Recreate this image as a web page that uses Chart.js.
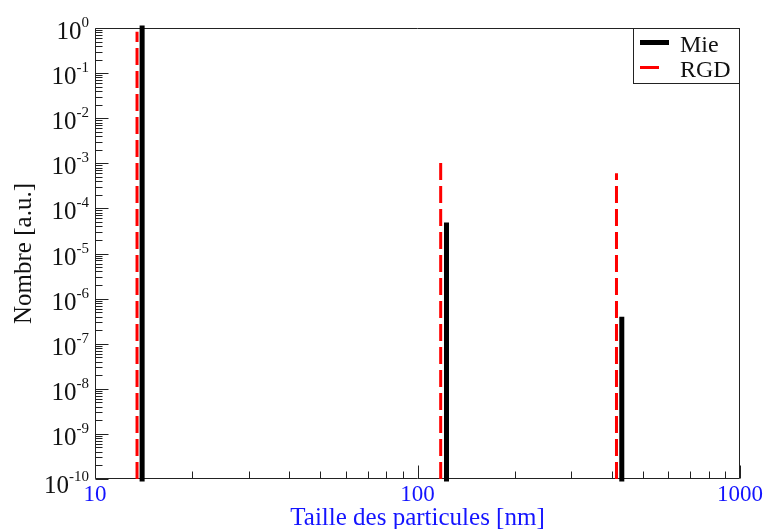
<!DOCTYPE html>
<html lang="fr">
<head>
  <meta charset="UTF-8" />
  <title>Distribution en taille des particules</title>
  <script src="https://cdn.jsdelivr.net/npm/chart.js"></script>
  <style>
    body { margin: 0; background: #fff; }
    #chart { display: block; }
  </style>
</head>
<body>

  <canvas id="chart" width="764" height="529"></canvas>

  <script>
    // particle sizes [nm] and number fractions for each model
    const mieSizes = [14, 123, 430];
    const mieValues = [1, 4.3e-5, 3.5e-7];
    const rgdSizes = [13.5, 118, 414];
    const rgdValues = [0.83, 1.3e-3, 6.0e-4];

    const xLabels = [10, 100, 1000];
    const yExponents = [0, -1, -2, -3, -4, -5, -6, -7, -8, -9, -10];
    const yFloor = 1e-10;

    const serif = '"Liberation Serif", "Times New Roman", serif';
    const blue = 'rgb(20,20,255)';

    // each size becomes a vertical stick from the bottom of the axis up to its value
    function sticks(sizes, values) {
      const pts = [];
      sizes.forEach((s, i) => {
        pts.push({ x: s, y: yFloor });
        pts.push({ x: s, y: values[i] });
        pts.push({ x: s, y: null });
      });
      return pts;
    }

    // frame with inward ticks on the left and bottom axes
    const frameTicks = {
      id: 'frameTicks',
      beforeDatasetsDraw(chart) {
        const { ctx, chartArea: a, scales: { x, y } } = chart;
        ctx.save();
        ctx.strokeStyle = '#222';
        ctx.lineWidth = 1;
        ctx.beginPath();
        const L = Math.round(a.left) + 0.5, R = Math.round(a.right) - 0.5;
        const T = Math.round(a.top) + 0.5, B = Math.round(a.bottom) - 0.5;
        ctx.rect(L, T, R - L, B - T);
        for (let k = -10; k <= 0; k++) {
          for (let m = 1; m <= 9; m++) {
            const v = m * Math.pow(10, k);
            if (v > 1) break;
            const py = Math.round(y.getPixelForValue(v)) + 0.5;
            const len = m === 1 ? 13 : 7;
            ctx.moveTo(L, py);
            ctx.lineTo(L + len, py);
          }
        }
        for (let k = 1; k <= 3; k++) {
          for (let m = 1; m <= 9; m++) {
            const v = m * Math.pow(10, k);
            if (v > 1000) break;
            const px = Math.round(x.getPixelForValue(v)) + 0.5;
            const len = m === 1 ? 13 : 7;
            ctx.moveTo(px, B);
            ctx.lineTo(px, B - len);
          }
        }
        ctx.stroke();
        ctx.restore();
      },
      afterDraw(chart) {
        const { ctx, chartArea: a, scales: { x, y } } = chart;
        ctx.save();
        ctx.textBaseline = 'alphabetic';

        // y tick labels: 10 with a raised exponent
        yExponents.forEach(e => {
          const py = y.getPixelForValue(Math.pow(10, e));
          const exp = String(e);
          const shift = e === -10 ? 3 : 0;
          ctx.fillStyle = '#111';
          ctx.font = '15px ' + serif;
          ctx.textAlign = 'right';
          const right = 89;
          ctx.fillText(exp, right, py - 1 + shift);
          const w = ctx.measureText(exp).width;
          ctx.font = '25px ' + serif;
          ctx.fillText('10', right - w, py + 11 + shift);
        });

        // x tick labels
        ctx.fillStyle = blue;
        ctx.font = '23px ' + serif;
        ctx.textAlign = 'center';
        xLabels.forEach(v => {
          ctx.fillText(String(v), x.getPixelForValue(v), 501);
        });

        // axis titles
        ctx.font = '25px ' + serif;
        ctx.fillText('Taille des particules [nm]', (a.left + a.right) / 2, 525);
        ctx.save();
        ctx.translate(31, (a.top + a.bottom) / 2);
        ctx.rotate(-Math.PI / 2);
        ctx.fillStyle = '#111';
        ctx.fillText('Nombre [a.u.]', 0, 0);
        ctx.restore();

        // legend box in the top right corner
        const bx = 633.5, by = Math.round(a.top) + 0.5, bw = Math.round(a.right) - 0.5 - bx, bh = 55;
        ctx.fillStyle = '#fff';
        ctx.fillRect(bx, by, bw, bh);
        ctx.strokeStyle = '#222';
        ctx.lineWidth = 1;
        ctx.strokeRect(bx, by, bw, bh);
        ctx.font = '24px ' + serif;
        ctx.textAlign = 'left';
        chart.data.datasets.forEach((ds, i) => {
          const ly = by + 14 + i * 25;
          ctx.strokeStyle = ds.borderColor;
          ctx.lineWidth = ds.borderWidth;
          ctx.beginPath();
          ctx.moveTo(640, ly);
          ctx.lineTo(i === 0 ? 669 : 659, ly);
          ctx.stroke();
          ctx.fillStyle = '#111';
          ctx.fillText(ds.label, 680, ly + 9);
        });
        ctx.restore();
      }
    };

    const chart = new Chart(document.getElementById('chart'), {
      type: 'line',
      data: {
        datasets: [
          {
            label: 'Mie',
            data: sticks(mieSizes, mieValues),
            borderColor: '#000',
            borderWidth: 5,
            borderCapStyle: 'square',
            pointRadius: 0,
            clip: false
          },
          {
            label: 'RGD',
            data: sticks(rgdSizes, rgdValues),
            borderColor: 'rgb(255,0,0)',
            borderWidth: 3,
            borderDash: [17, 6],
            pointRadius: 0,
            clip: false
          }
        ]
      },
      options: {
        responsive: false,
        animation: false,
        spanGaps: false,
        layout: { padding: { left: 95, top: 28, right: 24, bottom: 50 } },
        scales: {
          x: { type: 'logarithmic', min: 10, max: 1000, display: false },
          y: { type: 'logarithmic', min: 1e-10, max: 1, display: false }
        },
        plugins: {
          legend: { display: false },
          tooltip: { enabled: false }
        }
      },
      plugins: [frameTicks]
    });
  </script>

</body>
</html>
